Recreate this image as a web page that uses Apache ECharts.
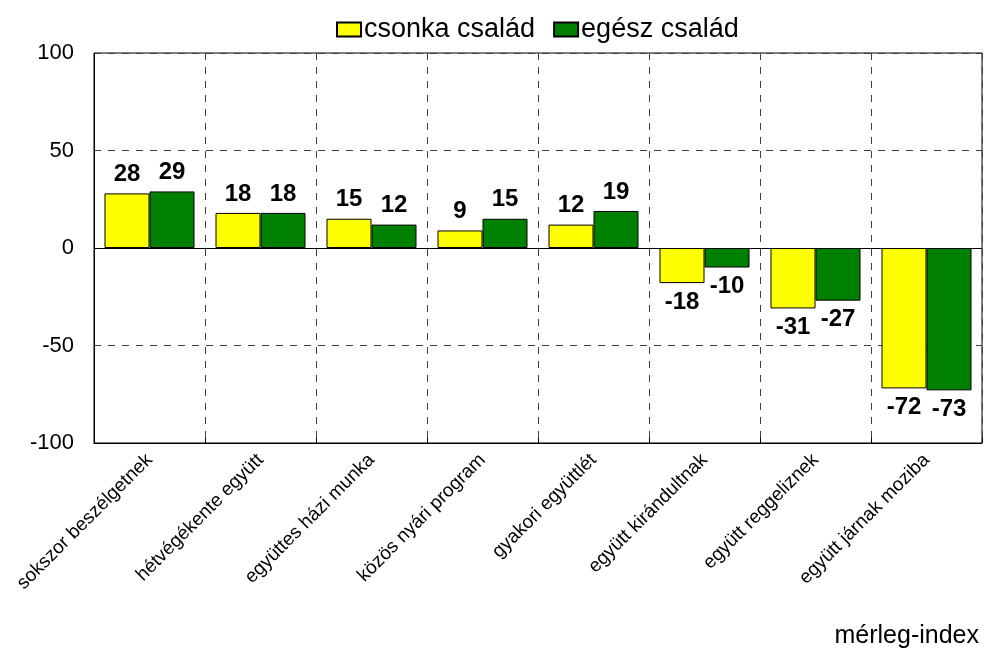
<!DOCTYPE html>
<html>
<head>
<meta charset="utf-8">
<script src="https://cdn.jsdelivr.net/npm/echarts@6/dist/echarts.min.js"></script>
<style>
  html, body { margin: 0; padding: 0; background: #fff; }
  #chart { width: 989px; height: 654px; }
</style>
</head>
<body>
<div id="chart"></div>
<script>
var categories = ['sokszor beszélgetnek', 'hétvégékente együtt', 'együttes házi munka',
  'közös nyári program', 'gyakori együttlét', 'együtt kirándultnak',
  'együtt reggeliznek', 'együtt járnak moziba']
var csonka = [28, 18, 15, 9, 12, -18, -31, -72]
var egesz = [29, 18, 12, 15, 19, -10, -27, -73]
var yTicks = [-100, -50, 0, 50, 100]

var font = 'Liberation Sans, Arial, sans-serif'

function withLabels (values) {
  return values.map(function (v) {
    return { value: v, label: { position: v < 0 ? 'bottom' : 'top' } }
  })
}

var barLabel = {
  show: true,
  distance: 7,
  color: '#000',
  fontFamily: font,
  fontSize: 24,
  fontWeight: 'bold'
}

var chart = echarts.init(document.getElementById('chart'))
chart.setOption({
  animation: false,
  textStyle: { fontFamily: font },
  title: {
    text: 'mérleg-index',
    right: 5,
    bottom: 0,
    textStyle: { fontFamily: font, fontSize: 25, fontWeight: 'normal', color: '#000' }
  },
  legend: {
    top: 11,
    left: 331,
    icon: 'rect',
    itemWidth: 24,
    itemHeight: 14,
    itemGap: 18,
    textStyle: { fontFamily: font, fontSize: 27, color: '#000', padding: [0, 0, 0, -2] },
    data: ['csonka család', 'egész család']
  },
  grid: {
    left: 94,
    right: 7,
    top: 53,
    bottom: 211,
    show: true,
    borderColor: '#000',
    borderWidth: 1
  },
  xAxis: {
    type: 'category',
    data: categories,
    axisLine: { onZero: false, lineStyle: { color: '#000' } },
    axisTick: { show: true, inside: true, length: 5, lineStyle: { color: '#000' } },
    splitLine: { show: true, lineStyle: { color: '#404040', type: [7, 7] } },
    axisLabel: {
      rotate: 45,
      margin: 14,
      color: '#000',
      fontFamily: font,
      fontSize: 19,
      interval: 0
    }
  },
  yAxis: {
    type: 'value',
    min: yTicks[0],
    max: yTicks[yTicks.length - 1],
    interval: 50,
    axisLine: { show: true, lineStyle: { color: '#000' } },
    axisTick: { show: false },
    splitLine: { show: true, lineStyle: { color: '#404040', type: [7, 7] } },
    axisLabel: { color: '#000', fontFamily: font, fontSize: 22, margin: 20 }
  },
  series: [
    {
      name: 'csonka család',
      type: 'bar',
      barWidth: 45,
      barGap: '0%',
      data: withLabels(csonka),
      itemStyle: { color: '#ffff00', borderColor: '#000', borderWidth: 1 },
      label: barLabel,
      markLine: {
        silent: true,
        symbol: 'none',
        label: { show: false },
        lineStyle: { color: '#000', type: 'solid', width: 1 },
        data: [{ yAxis: 0 }]
      }
    },
    {
      name: 'egész család',
      type: 'bar',
      barWidth: 45,
      barGap: '0%',
      data: withLabels(egesz),
      itemStyle: { color: '#008000', borderColor: '#000', borderWidth: 1 },
      label: barLabel
    }
  ]
})
</script>
</body>
</html>
